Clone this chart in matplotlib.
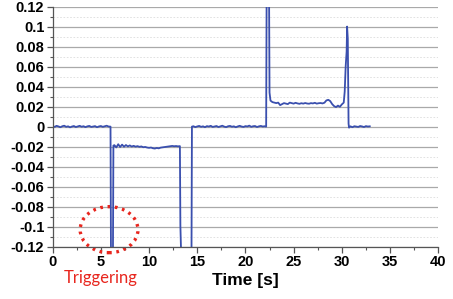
import numpy as np
import matplotlib
matplotlib.use("Agg")
import matplotlib.pyplot as plt
from matplotlib.patches import Ellipse
from matplotlib.ticker import MultipleLocator, FuncFormatter

BLUE, RED, GRID = "#3a4fae", "#e8261e", "#a9a9a9"
DT = 0.2

# signal pieces (time [s], value)
base1_v = [0.0005, -0.0003, 0.0008, 0.0002, -0.0006, 0.0004, 0.0009, -0.0002, 0.0003, -0.0007,
           0.0001, 0.0006, -0.0004, 0.0002, 0.0008, -0.0001, 0.0004, -0.0005, 0.0003, 0.0007,
           -0.0003, 0.0001, 0.0005, -0.0006, 0.0002, 0.0006, -0.0002, 0.0004, 0.0009, 0.0001]
base1_t0 = 0.0

trig_t = [6.0, 6.05, 6.25, 6.3]
trig_v = [0.0, -0.135, -0.135, -0.019]

neg_v = [-0.0185, -0.0208, -0.0176, -0.0204, -0.018, -0.0201, -0.0184, -0.0198, -0.0188, -0.0199,
         -0.0192, -0.02, -0.0195, -0.0202, -0.0198, -0.0206, -0.0203, -0.0209, -0.0212, -0.0209,
         -0.0216, -0.0219, -0.0213, -0.0217, -0.021, -0.0207, -0.0204, -0.02, -0.0197, -0.0195,
         -0.0193, -0.0196, -0.0194, -0.0197]
neg_t0 = 6.4

drop_t = [13.2, 13.25, 13.35, 14.4, 14.45]
drop_v = [-0.0195, -0.099, -0.135, -0.135, 0.0]

base2_v = [0.0004, -0.0005, 0.0002, 0.0007, -0.0002, 0.0003, -0.0006, 0.0005, 0.0001, 0.0008,
           -0.0003, 0.0002, 0.0006, -0.0004, 0.0003, 0.0009, 0.0000, -0.0005, 0.0004, 0.0007,
           -0.0001, 0.0003, -0.0006, 0.0002, 0.0008, 0.0001, -0.0003, 0.0005, 0.0002, 0.0010,
           -0.0002, 0.0004, 0.0006, -0.0004, 0.0003, 0.0007, 0.0001, 0.0004]
base2_t0 = 14.6

spike1_t = [22.15, 22.2, 22.45, 22.5]
spike1_v = [0.0, 0.135, 0.135, 0.034]

pos_v = [0.026, 0.0245, 0.024, 0.0235, 0.024, 0.0215, 0.0225, 0.0235, 0.023, 0.0225,
         0.024, 0.0235, 0.023, 0.0238, 0.0232, 0.0228, 0.0234, 0.023, 0.0236, 0.0231,
         0.0229, 0.0235, 0.0232, 0.0238, 0.023, 0.0234, 0.0236, 0.0232, 0.0239, 0.0262,
         0.0268, 0.0255, 0.0225, 0.0205, 0.0195, 0.021, 0.0198, 0.0222, 0.024]
pos_t0 = 22.6

spike2_t = [30.3, 30.4, 30.5, 30.55, 30.62, 30.7, 30.75]
spike2_v = [0.035, 0.06, 0.075, 0.1, 0.088, 0.003, -0.001]

base3_v = [0.0003, -0.0006, 0.0004, 0.0001, -0.0003, 0.0006, 0.0002, -0.0004, 0.0005, 0.0001, 0.0003]
base3_t0 = 30.9


def grid_t(t0, vals):
    return list(t0 + DT * np.arange(len(vals)))


t = (grid_t(base1_t0, base1_v) + trig_t + grid_t(neg_t0, neg_v) + drop_t + grid_t(base2_t0, base2_v)
     + spike1_t + grid_t(pos_t0, pos_v) + spike2_t + grid_t(base3_t0, base3_v))
v = base1_v + trig_v + neg_v + drop_v + base2_v + spike1_v + pos_v + spike2_v + base3_v

plt.rcParams["font.family"] = ["Liberation Sans", "DejaVu Sans"]
fig = plt.figure(figsize=(4.53, 2.99), dpi=100)
ax = fig.add_axes([0.1163, 0.175, 0.851, 0.803])
ax.set_xlim(0, 40); ax.set_ylim(-0.12, 0.12)

ax.yaxis.set_major_locator(MultipleLocator(0.02))
ax.yaxis.set_minor_locator(MultipleLocator(0.01))
ax.xaxis.set_major_locator(MultipleLocator(5))
ax.xaxis.set_minor_locator(MultipleLocator(2.5))
ax.yaxis.set_major_formatter(FuncFormatter(lambda y, p: f"{round(y, 3) + 0:g}"))
ax.grid(True, axis="y", which="major", color=GRID, lw=0.9)
ax.grid(True, axis="y", which="minor", color="#dcdcdc", lw=0.6, ls=(0, (2, 2)))
ax.set_axisbelow(True)

for s in ("top", "right"):
    ax.spines[s].set_visible(False)
for s in ("left", "bottom"):
    ax.spines[s].set_color("#555555")
    ax.spines[s].set_linewidth(0.9)
ax.tick_params(which="major", direction="out", length=4, width=0.9, color="#555555",
               labelsize=10.5, pad=2)
ax.tick_params(which="minor", direction="out", length=2, width=0.8, color="#555555")
for lab in ax.get_xticklabels() + ax.get_yticklabels():
    lab.set_fontweight("bold")

ax.plot(t, v, color=BLUE, lw=1.3)

ax.set_xlabel("Time [s]", fontsize=12.5, fontweight="bold", labelpad=3)

ax.add_patch(Ellipse((5.85, -0.103), 6.0, 0.046, fill=False, ec=RED, lw=2.4,
                     ls=(0, (0.8, 1.4)), clip_on=False))
fig.text(100.7 / 453, 1 - 278 / 299, "Triggering", color=RED, fontsize=12,
         family=["Lato", "DejaVu Sans"], ha="center", va="center")

fig.savefig("out.png", dpi=100, facecolor="white")
